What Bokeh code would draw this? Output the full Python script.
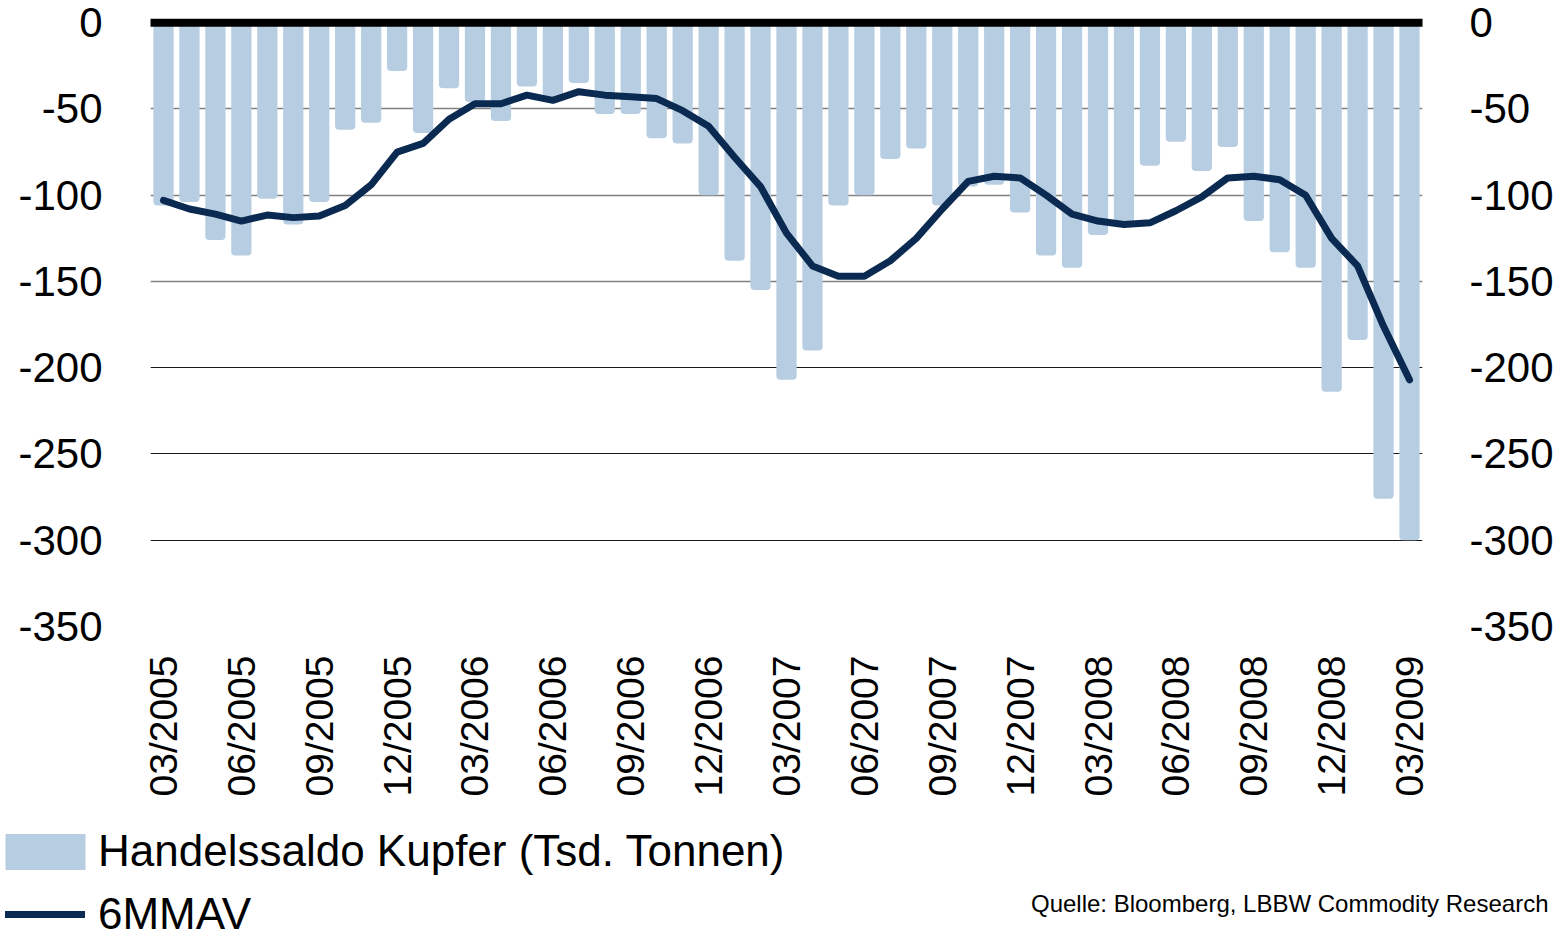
import math
from bokeh.plotting import figure
from bokeh.layouts import column
from bokeh.models import (ColumnDataSource, FixedTicker, LinearAxis, Grid, Span,
                          Legend, LegendItem, Label, Range1d)
from bokeh.embed import file_html
from bokeh.resources import INLINE

# ---------------- data ----------------
all_months = [f"{m:02d}/{y}" for y in range(2005, 2010) for m in range(1, 13)]
months = all_months[2:2 + 49]          # 03/2005 ... 03/2009

trade_balance = [-106, -104, -126, -135, -102, -117, -104, -62, -58, -28,
                 -64, -38, -46, -57, -37, -44, -35, -53, -53, -67,
                 -70, -100, -138, -155, -207, -190, -106, -100, -79, -73,
                 -106, -95, -94, -110, -135, -142, -123, -116, -83, -69,
                 -86, -72, -115, -133, -142, -214, -184, -276, -300]

mav6 = [-103, -108, -111, -115, -111.5, -113, -112, -106, -94, -75,
        -70, -56, -47, -47, -42, -45, -40, -42, -43, -44,
        -51, -60, -78, -95, -122, -141, -147, -147, -138, -125,
        -108, -92, -89, -90, -100, -111, -115, -117, -116, -109,
        -101, -90, -89, -91, -100, -125, -141, -176, -207]

tick_labels = ["03/2005", "06/2005", "09/2005", "12/2005", "03/2006", "06/2006",
               "09/2006", "12/2006", "03/2007", "06/2007", "09/2007", "12/2007",
               "03/2008", "06/2008", "09/2008", "12/2008", "03/2009"]

y_ticks = [0, -50, -100, -150, -200, -250, -300, -350]
y_tick_labels = ["0", "-50", "-100", "-150", "-200", "-250", "-300", "-350"]

series_bar = "Handelssaldo Kupfer (Tsd. Tonnen)"
series_line = "6MMAV"
source_text = "Quelle: Bloomberg, LBBW Commodity Research"

# ---------------- styling ----------------
FONT = "Liberation Sans"
BAR_COLOR = "#B7CEE2"
LINE_COLOR = "#0B2A52"
W = 1559
H1 = 805
H2 = 939 - H1

x = list(range(len(months)))
src = ColumnDataSource(dict(x=x, month=months, bal=trade_balance, mav=mav6))

p = figure(width=W, height=H1, output_backend="svg", toolbar_location=None,
           x_range=Range1d(-0.5, len(months) - 0.5), y_range=Range1d(-350, 3),
           min_border_left=150, min_border_right=137, min_border_top=17,
           min_border_bottom=H1 - 626)
p.outline_line_color = None
p.background_fill_color = "white"

# grids
p.xgrid.visible = False
p.ygrid.visible = False
g1 = Grid(dimension=1, ticker=FixedTicker(ticks=[-50, -100, -150]),
          grid_line_color="#808080", grid_line_width=1.5)
g2 = Grid(dimension=1, ticker=FixedTicker(ticks=[-200, -250, -300, -350]),
          grid_line_color="#1a1a1a", grid_line_width=1)
p.add_layout(g1)
p.add_layout(g2)

bars = p.vbar(x="x", top=0, bottom="bal", width=0.78, source=src,
              fill_color=BAR_COLOR, line_color=None, border_radius=4)
line = p.line(x="x", y="mav", source=src, line_color=LINE_COLOR, line_width=7,
              line_join="round", line_cap="round")

zero = Span(location=0, dimension="width", line_color="black", line_width=8,
            line_cap="round")
p.add_layout(zero)

# axes
def style_y(ax, standoff):
    ax.ticker = FixedTicker(ticks=y_ticks)
    ax.major_label_overrides = dict(zip(y_ticks, y_tick_labels))
    ax.axis_line_color = None
    ax.major_tick_line_color = None
    ax.minor_tick_line_color = None
    ax.major_label_text_font = FONT
    ax.major_label_text_font_size = "42px"
    ax.major_label_text_color = "black"
    ax.major_label_standoff = standoff

style_y(p.yaxis[0], 42)
right_axis = LinearAxis()
style_y(right_axis, 41)
p.add_layout(right_axis, "right")

xa = p.xaxis[0]
xa.ticker = FixedTicker(ticks=list(range(0, len(months), 3)))
xa.major_label_overrides = {i * 3: lab for i, lab in enumerate(tick_labels)}
xa.major_label_orientation = math.pi / 2
xa.axis_line_color = None
xa.major_tick_line_color = None
xa.minor_tick_line_color = None
xa.major_label_text_font = FONT
xa.major_label_text_font_size = "39px"
xa.major_label_text_color = "black"
xa.major_label_standoff = 23

# ---------------- bottom strip: legend + source ----------------
f2 = figure(width=W, height=H2, output_backend="svg", toolbar_location=None,
            x_range=Range1d(0, W), y_range=Range1d(0, H2),
            x_axis_type=None, y_axis_type=None, frame_align=False,
            min_border_left=0, min_border_right=0, min_border_top=0,
            min_border_bottom=0)
f2.outline_line_color = None
f2.xgrid.visible = False
f2.ygrid.visible = False
# legend key renderers (same data; they fall below this strip's range, so only the keys show)
leg_bar = f2.vbar(x="x", top=0, bottom="bal", width=0.78, source=src,
                  fill_color=BAR_COLOR, line_color=None, border_radius=4)
leg_line = f2.line(x="x", y="mav", source=src, line_color=LINE_COLOR,
                   line_width=7, line_cap="round")

common = dict(padding=0, margin=0, border_line_color=None,
              background_fill_alpha=0, label_text_font=FONT,
              label_text_font_size="44px", label_text_color="black")

legend_bar = Legend(items=[LegendItem(label=series_bar, renderers=[leg_bar])],
                    location=(-5, 63), glyph_width=100, glyph_height=45,
                    label_height=36, label_standoff=3, **common)
legend_line = Legend(items=[LegendItem(label=series_line, renderers=[leg_line])],
                     location=(5, 0), glyph_width=80, glyph_height=36,
                     label_height=36, label_standoff=13, **common)
f2.add_layout(legend_bar)
f2.add_layout(legend_line)

lab = Label(x=1548, y=36, text=source_text, text_align="right",
            text_baseline="middle", text_font=FONT, text_font_size="24px",
            text_color="black")
f2.add_layout(lab)

layout = column(p, f2, spacing=0)
open("out.html", "w").write(file_html(layout, INLINE))
